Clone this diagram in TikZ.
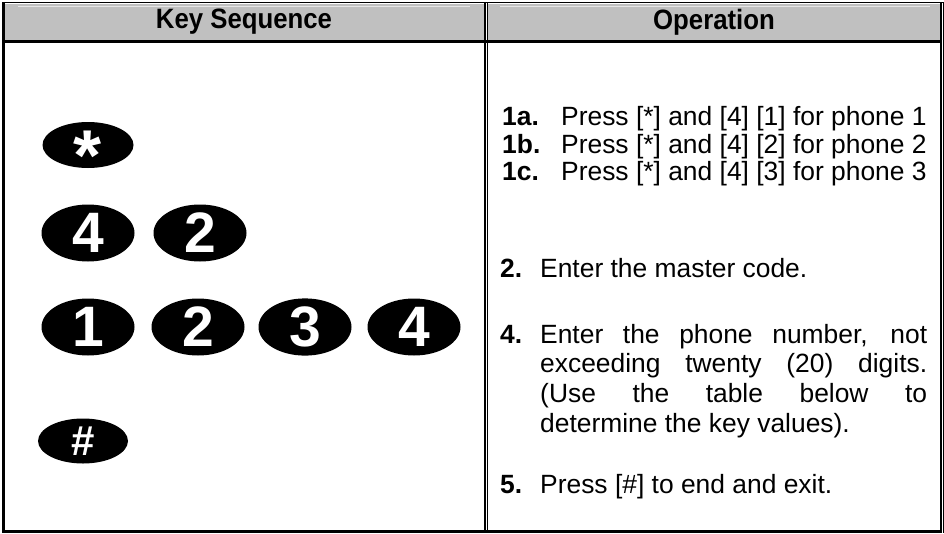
\documentclass[tikz,border=0pt]{standalone}
\usepackage{fontspec}
\setmainfont{Liberation Sans}
\usetikzlibrary{shapes.geometric}
\definecolor{headgray}{RGB}{192,192,192}

\begin{document}
\begin{tikzpicture}[x=1pt,y=-1pt,
  key/.style={ellipse, fill=black, text=white, inner sep=0pt,
    minimum width=93pt, minimum height=57pt,
    font=\bfseries\fontsize{57}{57}\selectfont},
  smallkey/.style={key, minimum width=91pt, minimum height=46pt,
    font=\bfseries\fontsize{42}{42}\selectfont},
  head/.style={font=\bfseries\fontsize{28}{30}\selectfont\addfontfeature{FakeStretch=0.92}},
  numlabel/.style={anchor=base west, inner sep=0pt,
    font=\bfseries\fontsize{26.4}{29.7}\selectfont},
  optext/.style={anchor=base west, inner sep=0pt,
    font=\fontsize{26.4}{29.7}\selectfont}]

  \useasboundingbox (0,0) rectangle (944,533);

  % header cells
  \fill[headgray] (5,4) rectangle (484,40);
  \fill[headgray] (488,4) rectangle (940,40);
  \draw[white!60!headgray] (18,6) -- (470,6);
  \draw[white!60!headgray] (500,6) -- (930,6);

  % table rules
  \draw[line width=1pt] (2,2.5) -- (944,2.5);
  \draw[line width=3pt] (3.5,2) -- (3.5,533);
  \draw[line width=3pt] (2,531.5) -- (942,531.5);
  \draw[line width=3pt] (5,41.5) -- (940,41.5);
  \draw[line width=1.7pt] (484.8,2) -- (484.8,531);
  \draw[line width=1.3pt] (487.4,2) -- (487.4,531);
  \draw[line width=2pt] (941,2) -- (941,533);
  \draw[line width=1pt] (943.5,2) -- (943.5,533);

  % column titles
  \node[head] (keyseq) at (244,22) {Key Sequence};
  \node[head] (oper) at (714,22) {Operation};

  % keys
  \node[smallkey, font=\bfseries\fontsize{72}{72}\selectfont] (star) at (88,145)
    {\smash{\raisebox{-35pt}{*}}};
  \node[key] (fourA) at (88,233) {4};
  \node[key] (twoA) at (200,233) {2};
  \node[key] (one) at (88,327) {1};
  \node[key] (twoB) at (198,327) {2};
  \node[key] (three) at (305,327) {3};
  \node[key] (fourB) at (414,327) {4};
  \node[smallkey, minimum width=90pt, minimum height=45pt] (hash) at (83,441) {\#};

  % operation steps
  \node[numlabel] (n1a) at (502,125) {1a.};
  \node[optext] (t1a) at (561,125) {Press [*] and [4] [1] for phone 1};
  \node[numlabel] (n1b) at (502,153) {1b.};
  \node[optext] (t1b) at (561,153) {Press [*] and [4] [2] for phone 2};
  \node[numlabel] (n1c) at (502,180) {1c.};
  \node[optext] (t1c) at (561,180) {Press [*] and [4] [3] for phone 3};

  \node[numlabel] (n2) at (500,277) {2.};
  \node[optext] (t2) at (540,277) {Enter the master code.};

  \node[numlabel] (n4) at (500,343) {4.};
  \node[optext, align=left] (t4) at (540,432.1)
    {\makebox[387pt][s]{Enter the phone number, not}\\
     \makebox[387pt][s]{exceeding twenty (20) digits.}\\
     \makebox[387pt][s]{(Use the table below to}\\
     determine the key values).};

  \node[numlabel] (n5) at (500,493) {5.};
  \node[optext] (t5) at (540,493) {Press [\#] to end and exit.};
\end{tikzpicture}
\end{document}
